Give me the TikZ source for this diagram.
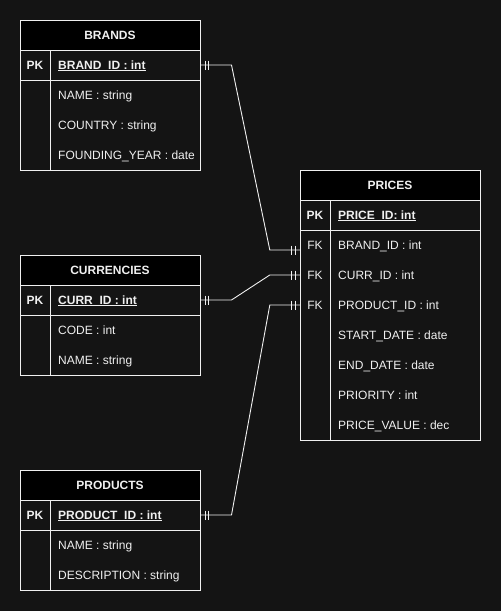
\documentclass[tikz,border=0pt]{standalone}
\usepackage{fontspec}
\setmainfont{Liberation Sans}
\definecolor{bg}{HTML}{141414}
\definecolor{fg}{HTML}{F0F0F0}
\newcommand{\pkul}[1]{\setbox0\hbox{#1}\rlap{\rule[-1.6pt]{\wd0}{0.9pt}}\box0}
\tikzset{
  titlebox/.style={draw=fg, fill=black, line width=1pt, minimum width=180pt, minimum height=30pt, inner sep=0pt, text=fg, font=\bfseries\fontsize{12}{14}\selectfont},
  pkbox/.style={draw=fg, fill=bg, line width=1pt, minimum width=180pt, minimum height=30pt, inner sep=0pt},
  rowarea/.style={minimum width=180pt, minimum height=30pt, inner sep=0pt},
  fld/.style={anchor=base west, inner sep=0pt, text=fg, font=\fontsize{12}{14}\selectfont},
  pkfld/.style={fld, font=\bfseries\fontsize{12}{14}\selectfont},
  keylbl/.style={anchor=base, inner sep=0pt, text=fg, font=\bfseries\fontsize{12}{14}\selectfont},
  fklbl/.style={anchor=base, inner sep=0pt, text=fg, font=\fontsize{12}{14}\selectfont},
  frame/.style={draw=fg, line width=1pt},
  conn/.style={draw=fg, line width=0.9pt},
}
\begin{document}
\begin{tikzpicture}[x=1pt,y=-1pt]
\fill[bg] (0,0) rectangle (501,611);
\useasboundingbox (0,0) rectangle (501,611);

% BRANDS
\node[titlebox] (bt) at (110,35) {BRANDS};
\node[pkbox] (bpk) at (110,65) {};
\draw[frame] (20,80) rectangle (200,170);
\draw[frame] (50,50) -- (50,170);
\node[keylbl] (bpkl) at (35,69.3) {PK};
\node[pkfld] (bf0) at (58,69.3) {\pkul{BRAND\_ID : int}};
\node[fld] (bf1) at (58,99.3) {NAME : string};
\node[fld] (bf2) at (58,129.3) {COUNTRY : string};
\node[fld] (bf3) at (58,159.3) {FOUNDING\_YEAR : date};

% CURRENCIES
\node[titlebox] (ct) at (110,270) {CURRENCIES};
\node[pkbox] (cpk) at (110,300) {};
\draw[frame] (20,315) rectangle (200,375);
\draw[frame] (50,285) -- (50,375);
\node[keylbl] (cpkl) at (35,304.3) {PK};
\node[pkfld] (cf0) at (58,304.3) {\pkul{CURR\_ID : int}};
\node[fld] (cf1) at (58,334.3) {CODE : int};
\node[fld] (cf2) at (58,364.3) {NAME : string};

% PRODUCTS
\node[titlebox] (rt) at (110,485) {PRODUCTS};
\node[pkbox] (rpk) at (110,515) {};
\draw[frame] (20,530) rectangle (200,590);
\draw[frame] (50,500) -- (50,590);
\node[keylbl] (rpkl) at (35,519.3) {PK};
\node[pkfld] (rf0) at (58,519.3) {\pkul{PRODUCT\_ID : int}};
\node[fld] (rf1) at (58,549.3) {NAME : string};
\node[fld] (rf2) at (58,579.3) {DESCRIPTION : string};

% PRICES
\node[titlebox] (pt) at (390,185) {PRICES};
\node[pkbox] (ppk) at (390,215) {};
\draw[frame] (300,230) rectangle (480,440);
\draw[frame] (330,200) -- (330,440);
\node[rowarea] (pbrand) at (390,245) {};
\node[rowarea] (pcurr) at (390,275) {};
\node[rowarea] (pprod) at (390,305) {};
\node[keylbl] (ppkl) at (315,219.3) {PK};
\node[pkfld] (pf0) at (338,219.3) {\pkul{PRICE\_ID: int}};
\node[fklbl] (pk1) at (315,249.3) {FK};
\node[fklbl] (pk2) at (315,279.3) {FK};
\node[fklbl] (pk3) at (315,309.3) {FK};
\node[fld] (pf1) at (338,249.3) {BRAND\_ID : int};
\node[fld] (pf2) at (338,279.3) {CURR\_ID : int};
\node[fld] (pf3) at (338,309.3) {PRODUCT\_ID : int};
\node[fld] (pf4) at (338,339.3) {START\_DATE : date};
\node[fld] (pf5) at (338,369.3) {END\_DATE : date};
\node[fld] (pf6) at (338,399.3) {PRIORITY : int};
\node[fld] (pf7) at (338,429.3) {PRICE\_VALUE : dec};

% connectors
\draw[conn] (bpk.east) -- ++(31,0) -- ([xshift=-30pt,yshift=-5pt]pbrand.west) -- ([yshift=-5pt]pbrand.west);
\draw[conn] (cpk.east) -- ++(31,0) -- ([xshift=-30pt]pcurr.west) -- (pcurr.west);
\draw[conn] (rpk.east) -- ++(31,0) -- ([xshift=-30pt]pprod.west) -- (pprod.west);

% mandatory-one markers
\foreach \n in {bpk,cpk,rpk}{
  \draw[conn] ([xshift=4.5pt,yshift=4.5pt]\n.east) -- ++(0,9);
  \draw[conn] ([xshift=8pt,yshift=4.5pt]\n.east) -- ++(0,9);
}
\draw[conn] ([xshift=-8pt,yshift=-0.5pt]pbrand.west) -- ++(0,9);
\draw[conn] ([xshift=-4pt,yshift=-0.5pt]pbrand.west) -- ++(0,9);
\foreach \n in {pcurr,pprod}{
  \draw[conn] ([xshift=-8pt,yshift=4.5pt]\n.west) -- ++(0,9);
  \draw[conn] ([xshift=-4pt,yshift=4.5pt]\n.west) -- ++(0,9);
}
\end{tikzpicture}
\end{document}
